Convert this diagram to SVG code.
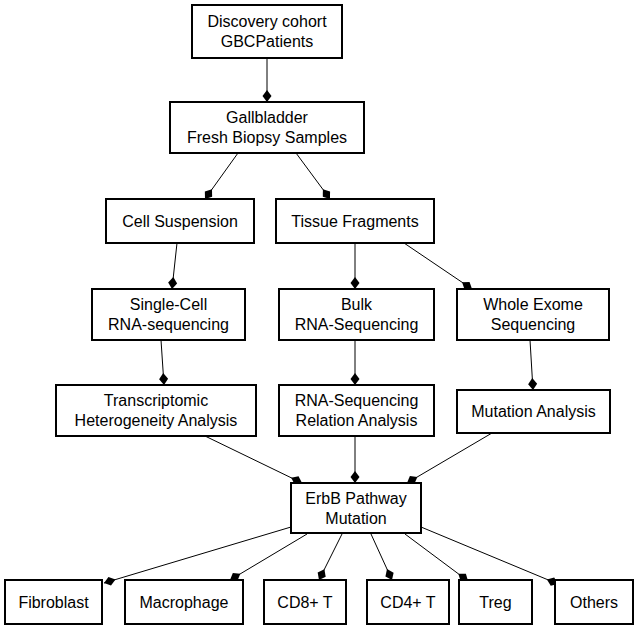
<svg xmlns="http://www.w3.org/2000/svg" width="639" height="630" viewBox="0 0 639 630">
<style>
.n rect{fill:#fff;stroke:#000;stroke-width:2}
.n text{font-family:"Liberation Sans",Arial,sans-serif;font-size:16px;text-anchor:middle;fill:#000}
.e line{stroke:#000;stroke-width:1;marker-end:url(#d)}
</style>
<defs>
<marker id="d" markerUnits="userSpaceOnUse" viewBox="0 -5 12 10" refX="12" refY="0" markerWidth="12" markerHeight="10" orient="auto">
<path d="M0,0 L6,-4.5 L12,0 L6,4.5 z" fill="#000"/>
</marker>
</defs>
<rect width="639" height="630" fill="#fff"/>
<g class="e">
<line x1="267" y1="58" x2="267" y2="102"/>
<line x1="238" y1="153" x2="205" y2="199"/>
<line x1="296" y1="153" x2="330" y2="199"/>
<line x1="177" y1="243" x2="172" y2="289"/>
<line x1="355" y1="243" x2="355" y2="289"/>
<line x1="404" y1="243" x2="472" y2="289"/>
<line x1="161" y1="340" x2="164" y2="385"/>
<line x1="355" y1="340" x2="355" y2="385"/>
<line x1="530" y1="340" x2="533" y2="390"/>
<line x1="205" y1="436" x2="302" y2="483"/>
<line x1="355" y1="436" x2="355" y2="483"/>
<line x1="492" y1="433" x2="407" y2="483"/>
<line x1="291" y1="527" x2="104" y2="583"/>
<line x1="307" y1="534" x2="230" y2="580"/>
<line x1="342" y1="534" x2="319" y2="580"/>
<line x1="371" y1="534" x2="392" y2="580"/>
<line x1="405" y1="534" x2="468" y2="581"/>
<line x1="421" y1="527" x2="558" y2="584"/>
</g>
<g id="discovery" class="n"><rect x="192" y="5" width="150" height="53"/><text x="267" y="27">Discovery cohort</text><text x="267" y="47">GBCPatients</text></g>
<g id="gallbladder" class="n"><rect x="170" y="102" width="194" height="51"/><text x="267" y="123">Gallbladder</text><text x="267" y="143">Fresh Biopsy Samples</text></g>
<g id="cell" class="n"><rect x="106" y="199" width="148" height="44"/><text x="180" y="227">Cell Suspension</text></g>
<g id="tissue" class="n"><rect x="276" y="199" width="158" height="44"/><text x="355" y="227">Tissue Fragments</text></g>
<g id="single" class="n"><rect x="92" y="289" width="153" height="51"/><text x="168.5" y="310">Single-Cell</text><text x="168.5" y="330">RNA-sequencing</text></g>
<g id="bulk" class="n"><rect x="279" y="289" width="155" height="51"/><text x="356.5" y="310">Bulk</text><text x="356.5" y="330">RNA-Sequencing</text></g>
<g id="wes" class="n"><rect x="457" y="289" width="152" height="51"/><text x="533" y="310">Whole Exome</text><text x="533" y="330">Sequencing</text></g>
<g id="trans" class="n"><rect x="56" y="385" width="200" height="51"/><text x="156" y="406">Transcriptomic</text><text x="156" y="426">Heterogeneity Analysis</text></g>
<g id="rnarel" class="n"><rect x="279" y="385" width="155" height="51"/><text x="356.5" y="406">RNA-Sequencing</text><text x="356.5" y="426">Relation Analysis</text></g>
<g id="mut" class="n"><rect x="457" y="390" width="153" height="43"/><text x="533.5" y="417">Mutation Analysis</text></g>
<g id="erbb" class="n"><rect x="291" y="483" width="130" height="50"/><text x="356" y="503.5">ErbB Pathway</text><text x="356" y="523.5">Mutation</text></g>
<g id="fibro" class="n"><rect x="5" y="580" width="97" height="44"/><text x="53.5" y="607.5">Fibroblast</text></g>
<g id="macro" class="n"><rect x="125" y="580" width="118" height="44"/><text x="184" y="607.5">Macrophage</text></g>
<g id="cd8" class="n"><rect x="264" y="580" width="82" height="44"/><text x="305" y="607.5">CD8+ T</text></g>
<g id="cd4" class="n"><rect x="367" y="580" width="82" height="44"/><text x="408" y="607.5">CD4+ T</text></g>
<g id="treg" class="n"><rect x="459" y="580" width="73" height="44"/><text x="495.5" y="607.5">Treg</text></g>
<g id="others" class="n"><rect x="555" y="580" width="78" height="44"/><text x="594" y="607.5">Others</text></g>
</svg>
